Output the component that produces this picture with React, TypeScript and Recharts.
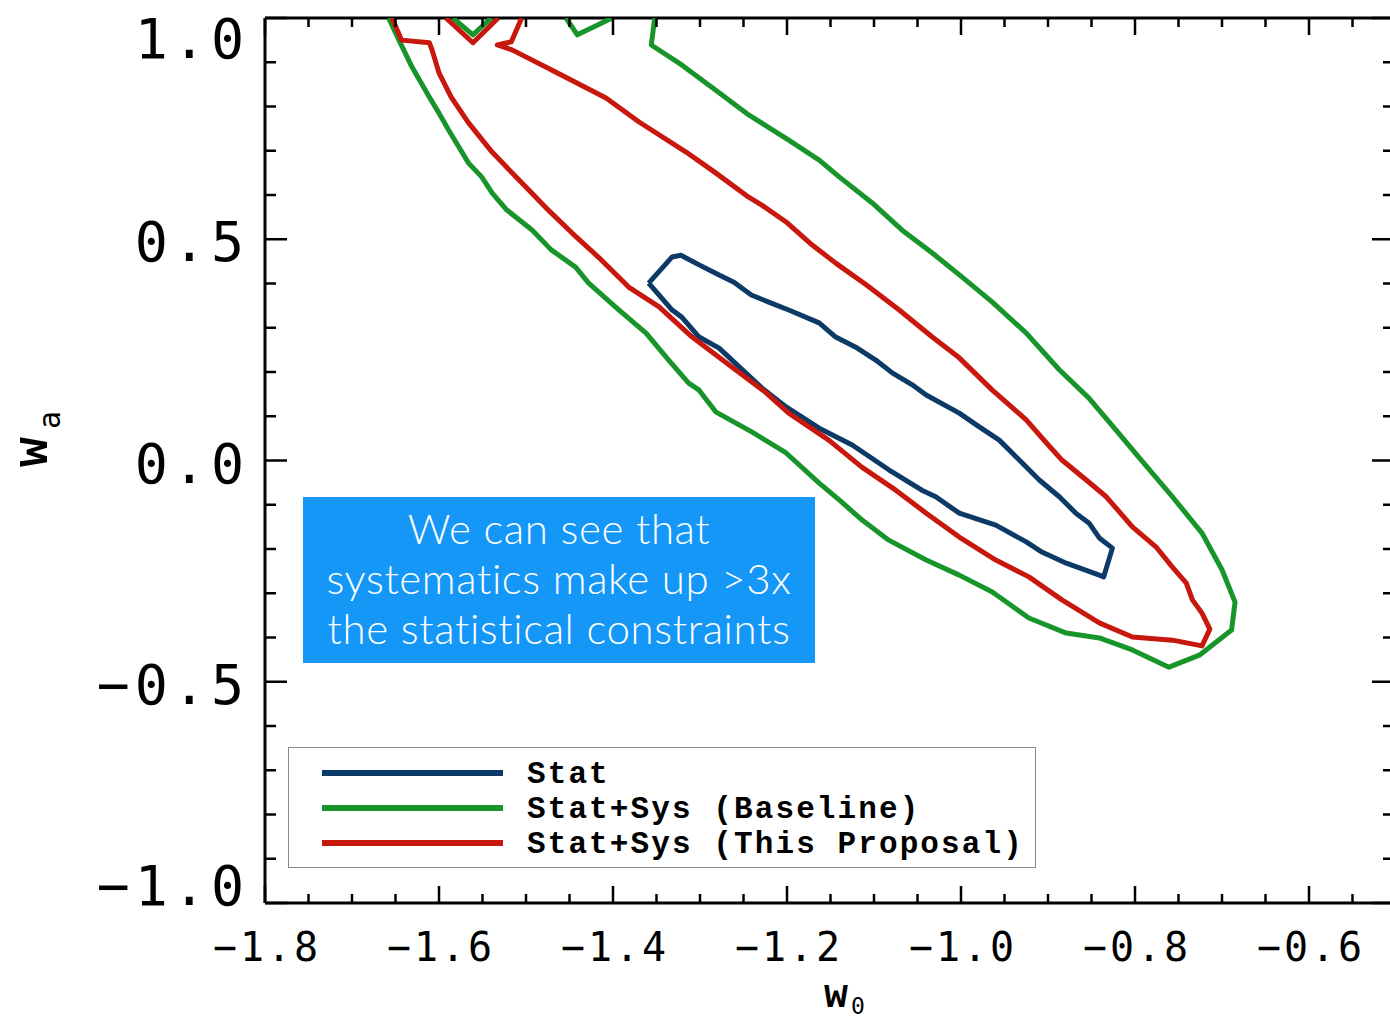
import React from 'react';
import { ScatterChart, Scatter, XAxis, YAxis, Legend } from 'recharts';

// ---------- data (w0, wa) ----------
const STAT: number[][] = [
  [-1.359, 0.401], [-1.332, 0.460], [-1.322, 0.464], [-1.301, 0.442], [-1.278, 0.419], [-1.261, 0.403],
  [-1.241, 0.374], [-1.221, 0.358], [-1.198, 0.340], [-1.163, 0.311], [-1.144, 0.279], [-1.121, 0.256],
  [-1.098, 0.227], [-1.079, 0.198], [-1.056, 0.171], [-1.040, 0.148], [-1.002, 0.107], [-0.979, 0.076],
  [-0.956, 0.046], [-0.933, 0.001], [-0.910, -0.044], [-0.887, -0.082], [-0.868, -0.119], [-0.853, -0.141],
  [-0.841, -0.175], [-0.826, -0.198], [-0.836, -0.263], [-0.841, -0.259], [-0.879, -0.232], [-0.907, -0.207],
  [-0.925, -0.184], [-0.960, -0.146], [-1.002, -0.119], [-1.029, -0.082], [-1.045, -0.067], [-1.083, -0.021],
  [-1.125, 0.035], [-1.163, 0.073], [-1.201, 0.121], [-1.229, 0.164], [-1.278, 0.254], [-1.301, 0.279],
  [-1.321, 0.324], [-1.332, 0.340], [-1.359, 0.401],
];

const BASELINE_MAIN: number[][] = [
  [-1.658, 1.0], [-1.646, 0.950], [-1.631, 0.889], [-1.611, 0.821], [-1.600, 0.785], [-1.589, 0.747],
  [-1.577, 0.708], [-1.566, 0.672], [-1.551, 0.641], [-1.539, 0.605], [-1.522, 0.566], [-1.493, 0.521],
  [-1.471, 0.476], [-1.443, 0.437], [-1.428, 0.401], [-1.393, 0.340], [-1.362, 0.288], [-1.336, 0.227],
  [-1.313, 0.175], [-1.301, 0.159], [-1.282, 0.110], [-1.240, 0.064], [-1.201, 0.017], [-1.163, -0.051],
  [-1.140, -0.089], [-1.114, -0.134], [-1.083, -0.180], [-1.040, -0.225], [-1.002, -0.259], [-0.964, -0.297],
  [-0.922, -0.356], [-0.879, -0.390], [-0.841, -0.401], [-0.803, -0.428], [-0.761, -0.467], [-0.726, -0.440],
  [-0.689, -0.383], [-0.685, -0.320], [-0.700, -0.247], [-0.723, -0.164], [-0.757, -0.082], [-0.795, 0.006],
  [-0.822, 0.069], [-0.853, 0.141], [-0.887, 0.205], [-0.925, 0.288], [-0.964, 0.358], [-0.999, 0.415],
  [-1.033, 0.469], [-1.068, 0.521], [-1.102, 0.582], [-1.140, 0.641], [-1.163, 0.679], [-1.198, 0.724],
  [-1.244, 0.781], [-1.278, 0.831], [-1.321, 0.894], [-1.356, 0.939], [-1.352, 1.0],
];
const BASELINE_V1: number[][] = [[-1.584, 1.0], [-1.561, 0.962], [-1.540, 1.0]];
const BASELINE_V2: number[][] = [[-1.454, 1.0], [-1.441, 0.962], [-1.401, 1.0]];

const PROPOSAL_MAIN: number[][] = [
  [-1.654, 1.0], [-1.643, 0.950], [-1.611, 0.944], [-1.608, 0.928], [-1.600, 0.876], [-1.586, 0.821],
  [-1.566, 0.763], [-1.539, 0.697], [-1.508, 0.634], [-1.477, 0.571], [-1.447, 0.514], [-1.416, 0.458],
  [-1.382, 0.392], [-1.347, 0.347], [-1.309, 0.279], [-1.263, 0.211], [-1.224, 0.153], [-1.198, 0.107],
  [-1.152, 0.046], [-1.114, -0.015], [-1.075, -0.067], [-1.040, -0.119], [-1.002, -0.173], [-0.960, -0.225],
  [-0.922, -0.263], [-0.884, -0.315], [-0.841, -0.367], [-0.803, -0.399], [-0.757, -0.406], [-0.723, -0.419],
  [-0.714, -0.381], [-0.723, -0.345], [-0.734, -0.315], [-0.741, -0.277], [-0.757, -0.241], [-0.776, -0.195],
  [-0.803, -0.150], [-0.833, -0.082], [-0.856, -0.044], [-0.884, 0.001], [-0.902, 0.040], [-0.925, 0.092],
  [-0.964, 0.159], [-1.002, 0.232], [-1.033, 0.279], [-1.071, 0.340], [-1.109, 0.397], [-1.144, 0.446],
  [-1.171, 0.487], [-1.201, 0.539], [-1.229, 0.577], [-1.244, 0.595], [-1.282, 0.650], [-1.316, 0.697],
  [-1.370, 0.765], [-1.408, 0.819], [-1.470, 0.882], [-1.516, 0.928], [-1.533, 0.939], [-1.517, 0.946],
  [-1.505, 1.0],
];
const PROPOSAL_V: number[][] = [[-1.592, 1.0], [-1.561, 0.944], [-1.532, 1.0]];

const X_TICKS = [-1.8, -1.75, -1.7, -1.65, -1.6, -1.55, -1.5, -1.45, -1.4, -1.35, -1.3, -1.25, -1.2, -1.15,
  -1.1, -1.05, -1.0, -0.95, -0.9, -0.85, -0.8, -0.75, -0.7, -0.65, -0.6, -0.55, -0.5];
const X_MAJOR = [-1.8, -1.6, -1.4, -1.2, -1.0, -0.8, -0.6];
const Y_TICKS = [-1.0, -0.9, -0.8, -0.7, -0.6, -0.5, -0.4, -0.3, -0.2, -0.1, 0.0, 0.1, 0.2, 0.3, 0.4, 0.5,
  0.6, 0.7, 0.8, 0.9, 1.0];
const Y_MAJOR = [-1.0, -0.5, 0.0, 0.5, 1.0];

const SERIES_NAMES = ['Stat', 'Stat+Sys (Baseline)', 'Stat+Sys (This Proposal)'];
const COLORS = { stat: '#0c3a66', base: '#17952a', prop: '#c8170d' };

const NOTE_LINES = ['We can see that', 'systematics make up >3x', 'the statistical constraints'];

// ---------- helpers ----------
const pts = (a: number[][]) => a.map(([w0, wa]) => ({ w0, wa }));
const isMajor = (list: number[], v: number) => list.some((m) => Math.abs(m - v) < 1e-6);
const fmt = (v: number) => (Math.abs(v) < 1e-9 ? '0.0' : v.toFixed(1).replace('-', '\u2212'));
const NoShape = () => <g />;

const TICK_W = 2.5;
const MONO = "'DejaVu Sans Mono', monospace";

const BottomTick = (p: any) => {
  const { x, y, payload } = p;
  const major = isMajor(X_MAJOR, payload.value);
  return (
    <g>
      <line x1={x} y1={y} x2={x} y2={y - (major ? 17 : 9)} stroke="#000" strokeWidth={TICK_W} />
      {major && (
        <text x={x + 2} y={y + 58} textAnchor="middle" fontFamily={MONO} fontSize={40} letterSpacing={3} fill="#000">
          {fmt(payload.value)}
        </text>
      )}
    </g>
  );
};
const TopTick = (p: any) => {
  const { x, y, payload } = p;
  const major = isMajor(X_MAJOR, payload.value);
  return <line x1={x} y1={y} x2={x} y2={y + (major ? 17 : 9)} stroke="#000" strokeWidth={TICK_W} />;
};
const LeftTick = (p: any) => {
  const { x, y, payload } = p;
  const v = payload.value;
  const major = isMajor(Y_MAJOR, v);
  let dy = 22;
  if (Math.abs(v - 1) < 1e-6) dy = 40;
  if (Math.abs(v + 1) < 1e-6) dy = 2;
  return (
    <g>
      <line x1={x} y1={y} x2={x + (major ? 22 : 11)} y2={y} stroke="#000" strokeWidth={TICK_W} />
      {major && (
        <text x={x - 16} y={y + dy} textAnchor="end" fontFamily={MONO} fontSize={55} letterSpacing={5} fill="#000">
          {fmt(v)}
        </text>
      )}
    </g>
  );
};
const RightTick = (p: any) => {
  const { x, y, payload } = p;
  const major = isMajor(Y_MAJOR, payload.value);
  return <line x1={x} y1={y} x2={x - (major ? 24 : 13)} y2={y} stroke="#000" strokeWidth={TICK_W} />;
};

const XTitle = () => (
  <g fontFamily="'Liberation Mono', monospace" fontWeight="bold" fill="#000">
    <text x={836} y={1007} textAnchor="middle" fontSize={40}>w</text>
    <text x={858} y={1014} textAnchor="middle" fontSize={23} fontFamily={MONO} fontWeight="normal">0</text>
  </g>
);
const YTitle = () => (
  <g fontFamily="'Liberation Mono', monospace" fontWeight="bold" fill="#000">
    <g transform="translate(47, 452) rotate(-90)">
      <text x={0} y={0} textAnchor="middle" fontSize={50}>w</text>
    </g>
    <g transform="translate(60, 420) rotate(-90)">
      <text x={0} y={0} textAnchor="middle" fontSize={30} fontFamily={MONO} fontWeight="normal">a</text>
    </g>
  </g>
);

const LegendBox = (props: any) => {
  const payload = (props.payload || []).filter((e: any) => SERIES_NAMES.includes(e.value));
  return (
    <div style={{ width: 748, height: 121, border: '1.5px solid #8a8a8a', background: '#fff', boxSizing: 'border-box' }}>
      <svg width={745} height={118} style={{ display: 'block' }}>
        {payload.map((e: any, i: number) => (
          <g key={e.value}>
            <line x1={33} x2={214} y1={25 + i * 35} y2={25 + i * 35} stroke={e.color} strokeWidth={6} />
            <text x={238} y={35 + i * 35} fontFamily="'Liberation Mono', monospace" fontWeight="bold"
              fontSize={31} letterSpacing={2.1} fill="#000">
              {e.value}
            </text>
          </g>
        ))}
      </svg>
    </div>
  );
};

export default function App() {
  const line = (c: string) => ({ stroke: c, strokeWidth: 5, strokeLinejoin: 'round' as const });
  return (
    <div style={{ position: 'absolute', left: 0, top: 0, width: 1390, height: 1019, overflow: 'hidden', background: '#fff' }}>
      <ScatterChart width={1420} height={1019} margin={{ top: 17, right: 23, bottom: 0, left: 0 }}>
        <XAxis xAxisId="b" dataKey="w0" type="number" domain={[-1.8, -0.5]} allowDataOverflow ticks={X_TICKS}
          interval={0} tickSize={0} tickMargin={0} tick={<BottomTick />} tickLine={false} height={116}
          axisLine={{ stroke: '#000', strokeWidth: 3 }} label={<XTitle />} />
        <XAxis xAxisId="t" orientation="top" dataKey="w0" type="number" domain={[-1.8, -0.5]} allowDataOverflow
          ticks={X_TICKS} interval={0} tickSize={0} tickMargin={0} tick={<TopTick />} tickLine={false} height={1}
          axisLine={{ stroke: '#000', strokeWidth: 3 }} />
        <YAxis yAxisId="l" dataKey="wa" type="number" domain={[-1, 1]} allowDataOverflow ticks={Y_TICKS}
          interval={0} tickSize={0} tickMargin={0} tick={<LeftTick />} tickLine={false} width={265}
          axisLine={{ stroke: '#000', strokeWidth: 3 }} label={<YTitle />} />
        <YAxis yAxisId="r" orientation="right" dataKey="wa" type="number" domain={[-1, 1]} allowDataOverflow
          ticks={Y_TICKS} interval={0} tickSize={0} tickMargin={0} tick={<RightTick />} tickLine={false} width={1}
          axisLine={{ stroke: '#000', strokeWidth: 3 }} />

        <Scatter xAxisId="b" yAxisId="l" name={SERIES_NAMES[0]} data={pts(STAT)} fill={COLORS.stat}
          line={line(COLORS.stat)} shape={NoShape} isAnimationActive={false} />
        <Scatter xAxisId="b" yAxisId="l" name={SERIES_NAMES[1]} data={pts(BASELINE_MAIN)} fill={COLORS.base}
          line={line(COLORS.base)} shape={NoShape} isAnimationActive={false} />
        <Scatter xAxisId="b" yAxisId="l" name={SERIES_NAMES[2]} data={pts(PROPOSAL_MAIN)} fill={COLORS.prop}
          line={line(COLORS.prop)} shape={NoShape} isAnimationActive={false} />
        <Scatter xAxisId="b" yAxisId="l" name="base-v1" legendType="none" data={pts(BASELINE_V1)} fill={COLORS.base}
          line={line(COLORS.base)} shape={NoShape} isAnimationActive={false} />
        <Scatter xAxisId="b" yAxisId="l" name="base-v2" legendType="none" data={pts(BASELINE_V2)} fill={COLORS.base}
          line={line(COLORS.base)} shape={NoShape} isAnimationActive={false} />
        <Scatter xAxisId="b" yAxisId="l" name="prop-v" legendType="none" data={pts(PROPOSAL_V)} fill={COLORS.prop}
          line={line(COLORS.prop)} shape={NoShape} isAnimationActive={false} />
        {/* invisible series bound to the top/right frame axes so they render */}
        <Scatter xAxisId="t" yAxisId="r" name="frame" legendType="none" data={pts(STAT)} fill="none"
          shape={NoShape} isAnimationActive={false} />

        <Legend content={<LegendBox />} layout="horizontal" verticalAlign="middle" align="center"
          wrapperStyle={{ left: 288, top: 747, width: 748, height: 121 }} />
      </ScatterChart>
      <div style={{
        position: 'absolute', left: 303, top: 497, width: 512, height: 166, background: '#1597f7', color: '#fff',
        fontFamily: "Lato, 'Open Sans', sans-serif", fontWeight: 300, fontSize: 42, letterSpacing: 0.6,
        lineHeight: '50px', textAlign: 'center', paddingTop: 6, boxSizing: 'border-box', whiteSpace: 'nowrap',
      }}>
        {NOTE_LINES.map((t) => <div key={t}>{t}</div>)}
      </div>
    </div>
  );
}
